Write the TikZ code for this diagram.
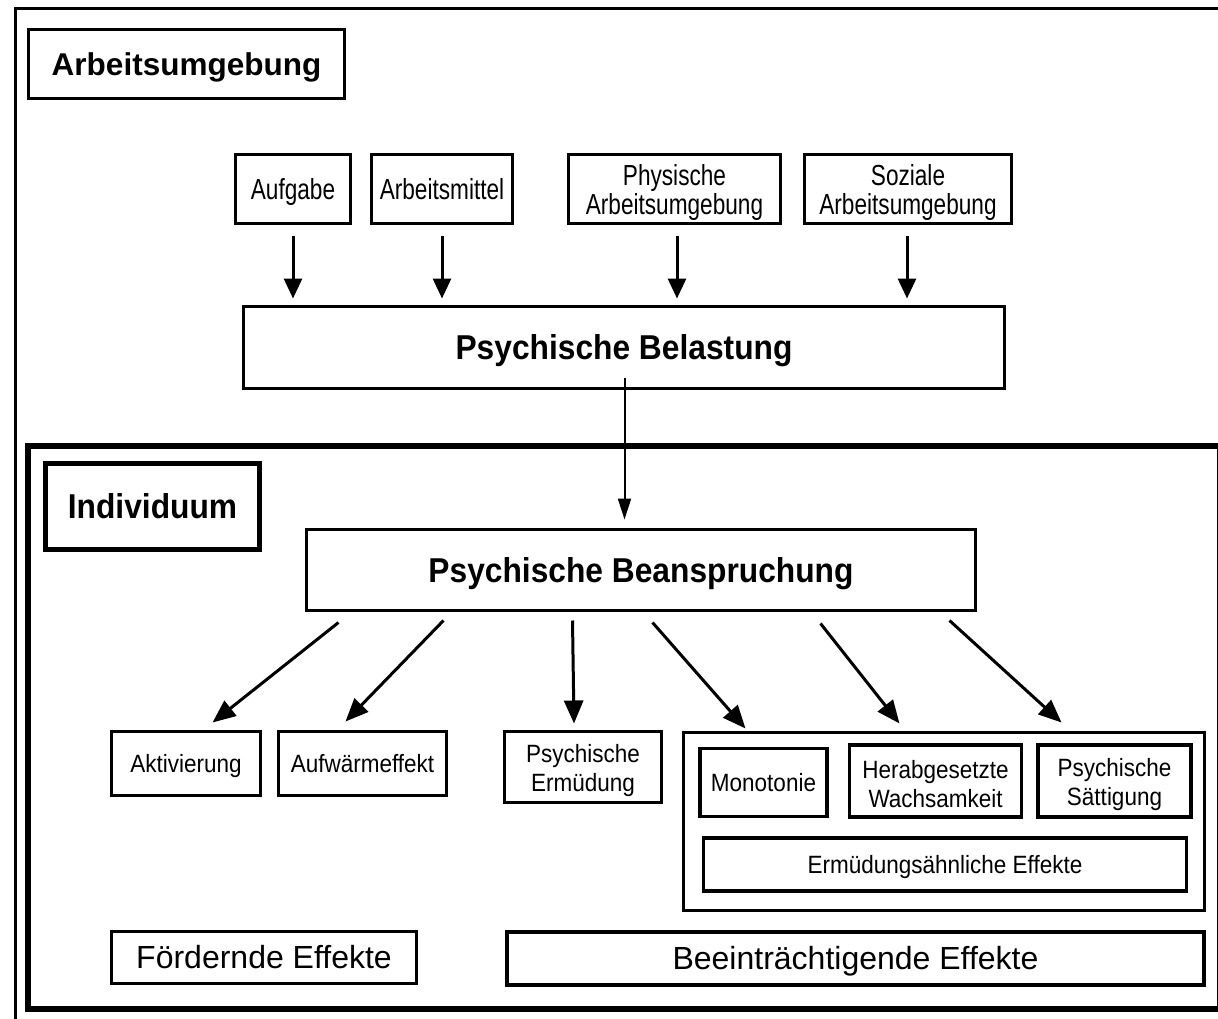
\documentclass[tikz,border=0pt]{standalone}
\usepackage{fontspec}
\setmainfont{Liberation Sans}
\newfontfamily\topfont{Liberation Sans}[FakeStretch=0.78]
\newfontfamily\lowfont{Liberation Sans}[FakeStretch=0.9]
\newfontfamily\bigfont{Liberation Sans}[FakeStretch=0.92]
\usetikzlibrary{arrows.meta,calc}
\newcommand{\tstrut}{\rule{0pt}{28pt}}
\newcommand{\lstrut}{\rule{0pt}{25pt}}
\begin{document}
\begin{tikzpicture}[x=1pt,y=-1pt,
  box/.style={draw, line width=#1, inner sep=0pt, outer sep=0pt, align=center},
  box/.default=3pt,
  capc/.style={text height=#1, text depth=0pt},
  toplbl/.style={font=\topfont\fontsize{29}{29}\selectfont},
  lowlbl/.style={font=\lowfont\fontsize{25}{29}\selectfont},
  biglbl/.style={font=\bigfont\bfseries\fontsize{34.5}{36}\selectfont, capc=24.7pt},
  efflbl/.style={font=\fontsize{32}{34}\selectfont, capc=22.9pt},
  arrtop/.style={line width=3pt, -{Triangle[length=20pt,width=18pt]}},
  arrmid/.style={line width=2pt, -{Triangle[length=21pt,width=13pt]}},
  arrdiag/.style={line width=3pt, -{Triangle[length=23pt,width=19pt]}},
]
\useasboundingbox (0,0) rectangle (1218,1018);
\clip (0,0) rectangle (1218,1018);
\fill[white] (0,0) rectangle (1218,1018);

% frames
\draw[line width=3pt] (15,8) rectangle (1260,1060);
\draw[line width=5.5pt] (28,446) rectangle (1219.5,1009);

% Arbeitsumgebung part
\node[box=2.5pt, minimum width=316, minimum height=69, capc=22.6pt,
      font=\bfseries\fontsize{31.5}{33}\selectfont] (arb) at (186.5,64) {Arbeitsumgebung};
\node[box, toplbl, capc=20.8pt, minimum width=115, minimum height=69] (auf) at (293,189) {Aufgabe};
\node[box, toplbl, capc=20.8pt, minimum width=141, minimum height=69] (mit) at (442,189) {Arbeitsmittel};
\node[box, toplbl, minimum width=212, minimum height=69] (phy) at (674.5,189) {\tstrut Physische\\Arbeitsumgebung};
\node[box, toplbl, minimum width=207, minimum height=69] (soz) at (908,189) {\tstrut Soziale\\Arbeitsumgebung};
\node[box=2.5pt, biglbl, minimum width=761, minimum height=82] (bel) at (624,347.5) {Psychische Belastung};

% Individuum part
\node[box=5pt, biglbl, minimum width=214, minimum height=86] (ind) at (152.5,506.5) {Individuum};
\node[box, biglbl, minimum width=669, minimum height=81] (bea) at (641,570) {Psychische Beanspruchung};

\node[box, lowlbl, capc=17.9pt, minimum width=149, minimum height=64] (akt) at (186,763.5) {Aktivierung};
\node[box, lowlbl, capc=17.9pt, minimum width=168, minimum height=64] (auw) at (362.5,763.5) {Aufwärmeffekt};
\node[box, lowlbl, minimum width=157, minimum height=71] (erm) at (583,767) {\lstrut Psychische\\Ermüdung};

\node[box=2.5pt, minimum width=521, minimum height=178] (grp) at (944,821.5) {};
\node[box=3.5pt, lowlbl, capc=17.9pt, minimum width=127, minimum height=68] (mon) at (763.5,782.5) {Monotonie};
\node[box=3.5pt, lowlbl, minimum width=172, minimum height=72] (her) at (935.6,781) {\lstrut Herabgesetzte\\Wachsamkeit};
\node[box=3.5pt, lowlbl, minimum width=153, minimum height=72] (sat) at (1114.5,781) {\lstrut Psychische\\Sättigung};
\node[box=3.5pt, lowlbl, capc=17.9pt, minimum width=483, minimum height=53] (ers) at (945,864.5) {Ermüdungsähnliche Effekte};

\node[box, efflbl, minimum width=305, minimum height=52] (foe) at (264,957.5) {Fördernde Effekte};
\node[box=3.5pt, efflbl, minimum width=697, minimum height=53] (bee) at (855.5,958.5) {Beeinträchtigende Effekte};

% arrows top -> Belastung
\draw[arrtop, shorten <=12pt, shorten >=8pt] (auf.south) -- (auf.south |- bel.north);
\draw[arrtop, shorten <=12pt, shorten >=8pt] (mit.south) -- (mit.south |- bel.north);
\draw[arrtop, shorten <=12pt, shorten >=8pt] ($(phy.south)+(2.5,0)$) -- ($(phy.south |- bel.north)+(2.5,0)$);
\draw[arrtop, shorten <=12pt, shorten >=8pt] ($(soz.south)+(-1,0)$) -- ($(soz.south |- bel.north)+(-1,0)$);

% Belastung -> Beanspruchung
\coordinate (belout) at ($(bel.south)+(0.5,-11)$);
\draw[arrmid, shorten >=10pt] (belout) -- (belout |- bea.north);

% Beanspruchung -> effects
\draw[arrdiag] ($(bea.south west)+(32,12)$) -- ($(akt.north west)+(101,-9)$);
\draw[arrdiag] ($(bea.south west)+(137,10)$) -- ($(auw.north west)+(67,-10)$);
\draw[arrdiag] ($(bea.south west)+(266,10)$) -- ($(erm.north west)+(69.5,-8)$);
\draw[arrdiag] ($(bea.south west)+(346,12)$) -- ($(grp.north west)+(62,-4)$);
\draw[arrdiag] ($(bea.south west)+(514,13)$) -- ($(grp.north west)+(216,-9)$);
\draw[arrdiag] ($(bea.south west)+(643,10)$) -- ($(grp.north west)+(378,-10)$);
\end{tikzpicture}
\end{document}
